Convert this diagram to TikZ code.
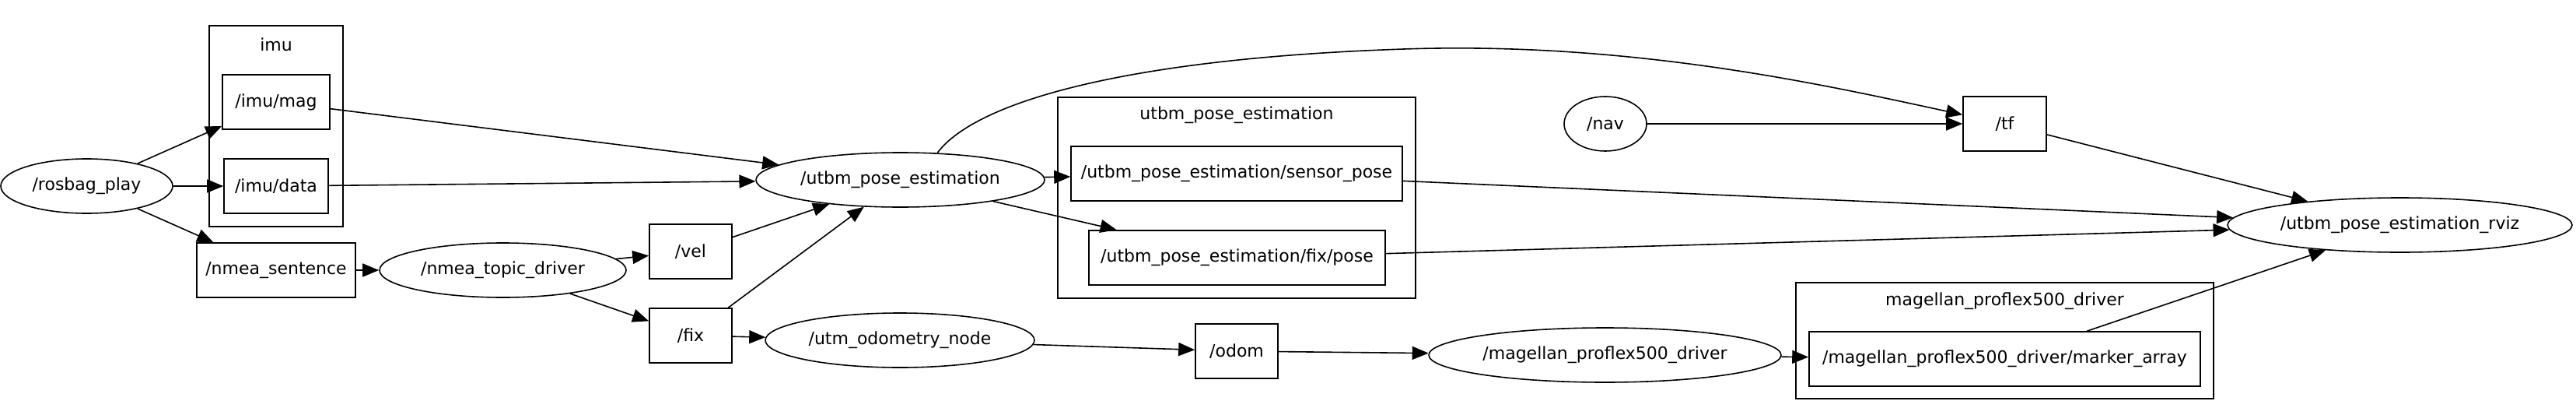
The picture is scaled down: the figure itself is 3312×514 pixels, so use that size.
\documentclass[tikz,border=0pt]{standalone}
\usepackage{fontspec}
\setmainfont{DejaVu Sans}
\usetikzlibrary{shapes.geometric, arrows.meta}

\begin{document}
\begin{tikzpicture}[
        x=0.5pt, y=-0.5pt,
        every node/.style={font=\fontsize{11}{13}\selectfont, inner sep=0pt},
        topic/.style={rectangle, draw, line width=0.8pt, minimum height=35pt},
        rosnode/.style={ellipse, draw, line width=0.8pt, minimum height=35pt},
        group/.style={rectangle, draw, line width=0.8pt},
        arrow/.style={-{Triangle[length=10.5pt, width=8.5pt]}, line width=0.8pt}
    ]
        \useasboundingbox (0, 0) rectangle (3312, 514);

        % Groups
        \node[group, minimum width=86pt, minimum height=129pt] (imuGrp) at (355, 162) {};
        \node (imuLbl) at (355, 57) {imu};
        \node[group, minimum width=230pt, minimum height=129pt] (poseGrp) at (1590, 254) {};
        \node (poseLbl) at (1590, 148) {utbm\_pose\_estimation};
        \node[group, minimum width=268.5pt, minimum height=74.5pt] (magGrp) at (2577.5, 437.5) {};
        \node (magLbl) at (2577.5, 387) {magellan\_proflex500\_driver};

        % Nodes
        \node[rosnode, minimum width=110.5pt] (rosbag) at (111.5, 239) {/rosbag\_play};
        \node[rosnode, minimum width=158.5pt] (nmeaDrv) at (646.5, 347) {/nmea\_topic\_driver};
        \node[rosnode, minimum width=185.5pt] (pose) at (1157.5, 231) {/utbm\_pose\_estimation};
        \node[rosnode, minimum width=173pt] (utmOdom) at (1157, 437) {/utm\_odometry\_node};
        \node[rosnode, minimum width=53pt] (nav) at (2064, 159) {/nav};
        \node[rosnode, minimum width=226.5pt] (magellan) at (2063.5, 456) {/magellan\_proflex500\_driver};
        \node[rosnode, minimum width=221.5pt] (rviz) at (3085.5, 289) {/utbm\_pose\_estimation\_rviz};

        % Topics
        \node[topic, minimum width=69pt] (imuMag) at (355, 131) {/imu/mag};
        \node[topic, minimum width=67pt] (imuData) at (355, 239) {/imu/data};
        \node[topic, minimum width=102pt] (nmeaSent) at (355, 347) {/nmea\_sentence};
        \node[topic, minimum width=53pt] (vel) at (888, 323) {/vel};
        \node[topic, minimum width=53pt] (fix) at (888, 431) {/fix};
        \node[topic, minimum width=213pt] (sensorPose) at (1590, 223) {/utbm\_pose\_estimation/sensor\_pose};
        \node[topic, minimum width=190.5pt] (fixPose) at (1590.5, 331) {/utbm\_pose\_estimation/fix/pose};
        \node[topic, minimum width=53pt] (odom) at (1590, 451) {/odom};
        \node[topic, minimum width=53.5pt] (tf) at (2577.5, 159) {/tf};
        \node[topic, minimum width=251.5pt] (markerArr) at (2577.5, 461) {/magellan\_proflex500\_driver/marker\_array};

        % Arrows
        \draw[arrow] (rosbag) -- (imuMag);
        \draw[arrow] (rosbag) -- (imuData);
        \draw[arrow] (rosbag) -- (nmeaSent);
        \draw[arrow] (imuMag) -- (pose);
        \draw[arrow] (imuData) -- (pose);
        \draw[arrow] (nmeaSent) -- (nmeaDrv);
        \draw[arrow] (nmeaDrv) -- (vel);
        \draw[arrow] (nmeaDrv) -- (fix);
        \draw[arrow] (vel) -- (pose);
        \draw[arrow] (fix) -- (pose);
        \draw[arrow] (fix) -- (utmOdom);
        \draw[arrow] (pose) -- (sensorPose);
        \draw[arrow] (pose) -- (fixPose);
        \draw[arrow] (pose.36) .. controls (1255, 130) and (1450, 75) .. (1805, 63)
            .. controls (2100, 53) and (2350, 110) .. (tf);
        \draw[arrow] (nav) -- (tf);
        \draw[arrow] (tf) -- (rviz);
        \draw[arrow] (sensorPose) -- (rviz);
        \draw[arrow] (fixPose) -- (rviz);
        \draw[arrow] (utmOdom) -- (odom);
        \draw[arrow] (odom) -- (magellan);
        \draw[arrow] (magellan) -- (markerArr);
        \draw[arrow] (markerArr) -- (rviz);
    \end{tikzpicture}
\end{document}
